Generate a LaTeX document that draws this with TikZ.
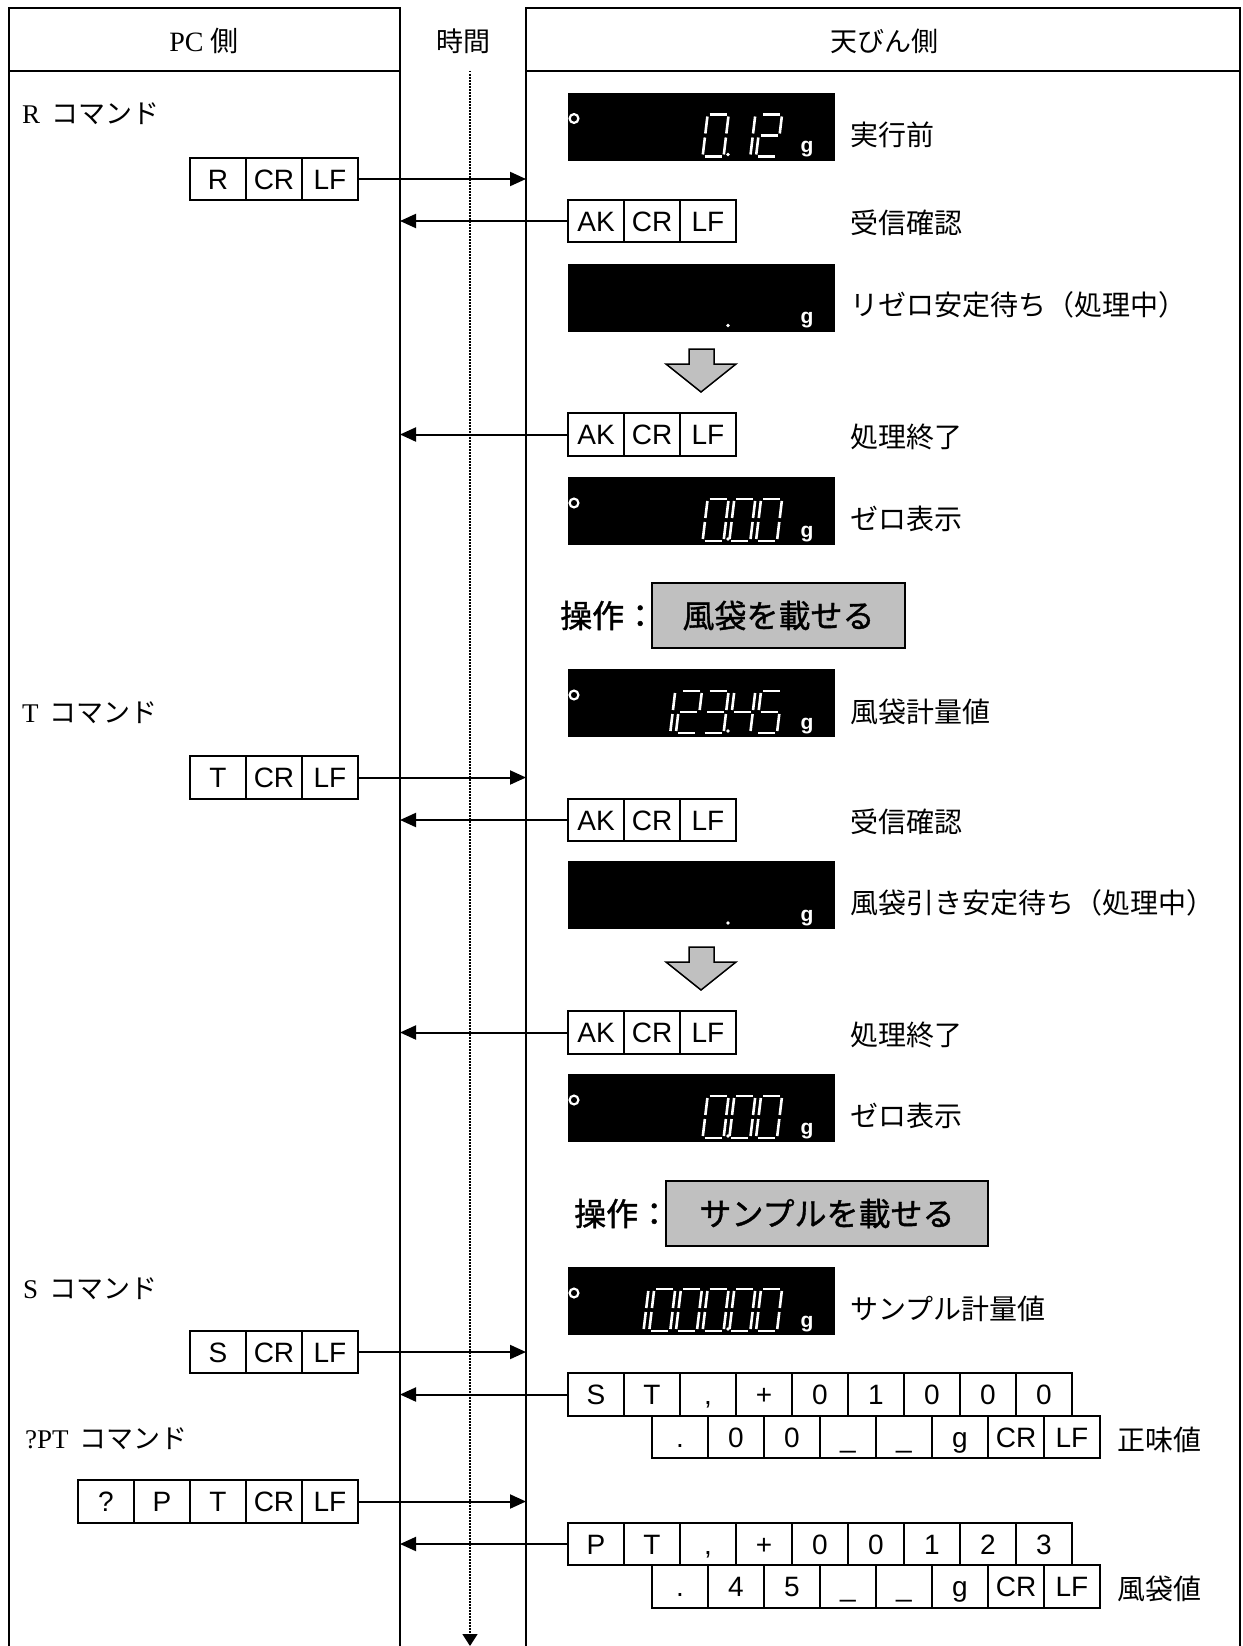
\documentclass[tikz,border=0pt]{standalone}
\usepackage{fontspec}
\setmainfont{Liberation Serif}
\setsansfont{Liberation Sans}
\newfontfamily\cjk{Noto Sans CJK JP}
\newfontfamily\cjkb[FakeBold=1.2]{Noto Sans CJK JP}
\usetikzlibrary{arrows.meta,calc}
\definecolor{opgray}{RGB}{192,192,192}
\tikzset{
  frame/.style={line width=2pt},
  cell/.style={draw, line width=1.7pt, minimum width=56pt, minimum height=42.5pt, inner sep=0pt,
    font=\fontsize{28}{30}\selectfont\sffamily, text height=20pt, text depth=0pt},
  arr/.style={line width=2pt, -{Triangle[length=16pt,width=14pt]}},
  timearr/.style={line width=1.5pt, dash pattern=on 1.5pt off 1.5pt, -{Triangle[length=12pt,width=15pt]}},
  dispbox/.style={fill=black, draw=none, minimum width=267pt, minimum height=68pt, inner sep=0pt},
  segline/.style={draw=white, line width=2.6pt},
  gtxt/.style={text=white, font=\fontsize{21}{24}\selectfont\sffamily\bfseries, anchor=base, inner sep=0pt},
  lbl/.style={font=\fontsize{28}{32}\selectfont\cjk, anchor=west, inner sep=0pt},
  cmdlbl/.style={font=\fontsize{27}{30}\selectfont\rmfamily, anchor=west, inner sep=0pt},
  hdr/.style={font=\fontsize{27}{30}\selectfont, inner sep=0pt},
  optxt/.style={font=\fontsize{32}{36}\selectfont\cjkb, anchor=west, inner sep=0pt},
  opbox/.style={draw, line width=1.8pt, fill=opgray, inner sep=0pt, font=\fontsize{32}{36}\selectfont\cjkb},
  grayarrow/.style={draw, line width=1.5pt, fill=opgray, line join=miter},
  sg a/.style={insert path={(2,-42) -- (19,-42)}},
  sg b/.style={insert path={(21,-40) -- (21,-23)}},
  sg c/.style={insert path={(21,-19) -- (21,-2)}},
  sg d/.style={insert path={(2,0) -- (19,0)}},
  sg e/.style={insert path={(0,-2) -- (0,-19)}},
  sg f/.style={insert path={(0,-23) -- (0,-40)}},
  sg g/.style={insert path={(2,-21) -- (19,-21)}},
}
% digit in slot #2 (0 = rightmost) of display with top #1
\newcommand\segdig[3]{%
  \begin{scope}[shift={({756-26.7*#2},{#1+64})},xslant=0.12]
    \edef\seglist{#3}%
    \foreach \s in \seglist {\edef\tmpseg{\noexpand\path[segline, sg \s];}\tmpseg}
  \end{scope}}
% display frame: name, top, ring (1/0)
\newcommand\dispframe[3]{%
  \node[dispbox] (#1) at (701.5,{#2+34}) {};
  \ifnum#3=1 \draw[white, line width=2.2pt] (574,{#2+26}) circle (4.4pt);\fi
  \fill[white] (728,{#2+62}) circle (1.8pt);
  \node[gtxt] at (807,{#2+60}) {g};}
\newcommand\cellrow[4]{%
  \foreach \t [count=\i] in {#4}{\node[cell] (#1-\i) at ({#2+28+56*(\i-1)},#3) {\t};}}
\newcommand\cmdtxt[1]{#1\hspace{11pt}{\fontsize{27}{30}\selectfont\cjk コマンド}}
\def\Dzero{a,b,c,d,e,f}
\def\Done{b,c}
\def\Dtwo{a,b,g,e,d}
\def\Dthree{a,b,g,c,d}
\def\Dfour{f,g,b,c}
\def\Dfive{a,f,g,c,d}
\begin{document}
\begin{tikzpicture}[x=1pt,y=-1pt]
\useasboundingbox (0,0) rectangle (1242,1646);
\fill[white] (0,0) rectangle (1242,1646);
% frames
\draw[frame] (8.5,1646) -- (8.5,8.5) -- (400,8.5) -- (400,1646);
\draw[frame] (8.5,71) -- (400,71);
\draw[frame] (526,1646) -- (526,8.5) -- (1240,8.5) -- (1240,1646);
\draw[frame] (526,71) -- (1240,71);
\coordinate (pcR) at (400,0);
\coordinate (balL) at (526,0);
% headers
\node[hdr] (hpc) at (204,41) {\fontsize{28}{30}\selectfont PC\hspace{7pt}{\cjk 側}};
\node[hdr] (htime) at (463,41) {\cjk 時間};
\node[hdr] (hbal) at (884,41) {\cjk 天びん側};
% time line
\coordinate (t0) at (470,71);
\coordinate (t1) at (470,1646);
\draw[timearr] (t0) -- (t1);
% command labels
\node[cmdlbl] (lr) at (22,114) {\cmdtxt{R}};
\node[cmdlbl] (lt) at (22,713) {\cmdtxt{T}};
\node[cmdlbl] (ls) at (23,1289) {\cmdtxt{S}};
\node[cmdlbl] (lq) at (25,1439) {\cmdtxt{?PT}};
% displays
\dispframe{D1}{92.5}{1}
\segdig{92.5}{2}{\Dzero}\segdig{92.5}{1}{\Done}\segdig{92.5}{0}{\Dtwo}
\dispframe{D2}{263.5}{0}
\dispframe{D3}{477}{1}
\segdig{477}{2}{\Dzero}\segdig{477}{1}{\Dzero}\segdig{477}{0}{\Dzero}
\dispframe{D4}{669}{1}
\segdig{669}{4}{\Done}\segdig{669}{3}{\Dtwo}\segdig{669}{2}{\Dthree}\segdig{669}{1}{\Dfour}\segdig{669}{0}{\Dfive}
\dispframe{D5}{861}{0}
\dispframe{D6}{1074}{1}
\segdig{1074}{2}{\Dzero}\segdig{1074}{1}{\Dzero}\segdig{1074}{0}{\Dzero}
\dispframe{D7}{1267}{1}
\segdig{1267}{5}{\Done}\segdig{1267}{4}{\Dzero}\segdig{1267}{3}{\Dzero}\segdig{1267}{2}{\Dzero}\segdig{1267}{1}{\Dzero}\segdig{1267}{0}{\Dzero}
% gray arrows
\draw[grayarrow] (689,349) -- (714,349) -- (714,364) -- (736,364) -- (701,392) -- (666,364) -- (689,364) -- cycle;
\draw[grayarrow] (689,947) -- (714,947) -- (714,962) -- (736,962) -- (701,990) -- (666,962) -- (689,962) -- cycle;
% operations
\node[optxt] (op1l) at (560,615.5) {操作：};
\node[opbox, minimum width=253pt, minimum height=65pt] (op1) at (778.5,615.5) {風袋を載せる};
\node[optxt] (op2l) at (574,1213.5) {操作：};
\node[opbox, minimum width=322pt, minimum height=65pt] (op2) at (827,1213.5) {サンプルを載せる};
% cells
\cellrow{R}{190}{179}{R,CR,LF}
\cellrow{AKa}{568}{221}{AK,CR,LF}
\cellrow{AKb}{568}{434.5}{AK,CR,LF}
\cellrow{T}{190}{777.5}{T,CR,LF}
\cellrow{AKc}{568}{820}{AK,CR,LF}
\cellrow{AKd}{568}{1032.5}{AK,CR,LF}
\cellrow{S}{190}{1352}{S,CR,LF}
\cellrow{STa}{568}{1394.5}{S,T,{,},+,0,1,0,0,0}
\cellrow{STb}{652}{1437}{.,0,0,\_,\_,g,CR,LF}
\cellrow{Q}{78}{1501.5}{?,P,T,CR,LF}
\cellrow{PTa}{568}{1544}{P,T,{,},+,0,0,1,2,3}
\cellrow{PTb}{652}{1586.5}{.,4,5,\_,\_,g,CR,LF}
% connectors
\draw[arr] (R-3.east) -- (R-3.east -| balL);
\draw[arr] (T-3.east) -- (T-3.east -| balL);
\draw[arr] (S-3.east) -- (S-3.east -| balL);
\draw[arr] (Q-5.east) -- (Q-5.east -| balL);
\draw[arr] (AKa-1.west) -- (AKa-1.west -| pcR);
\draw[arr] (AKb-1.west) -- (AKb-1.west -| pcR);
\draw[arr] (AKc-1.west) -- (AKc-1.west -| pcR);
\draw[arr] (AKd-1.west) -- (AKd-1.west -| pcR);
\draw[arr] (STa-1.west) -- (STa-1.west -| pcR);
\draw[arr] (PTa-1.west) -- (PTa-1.west -| pcR);
% labels
\node[lbl] (l1) at (850,135) {実行前};
\node[lbl] (l2) at (850,223) {受信確認};
\node[lbl] (l3) at (850,305) {リゼロ安定待ち（処理中）};
\node[lbl] (l4) at (850,436.5) {処理終了};
\node[lbl] (l5) at (850,519) {ゼロ表示};
\node[lbl] (l6) at (850,712) {風袋計量値};
\node[lbl] (l7) at (850,822) {受信確認};
\node[lbl] (l8) at (850,903) {風袋引き安定待ち（処理中）};
\node[lbl] (l9) at (850,1034.5) {処理終了};
\node[lbl] (l10) at (850,1116) {ゼロ表示};
\node[lbl] (l11) at (850,1309) {サンプル計量値};
\node[lbl] (l12) at (1117,1439.5) {正味値};
\node[lbl] (l13) at (1117,1588.5) {風袋値};
\end{tikzpicture}
\end{document}
